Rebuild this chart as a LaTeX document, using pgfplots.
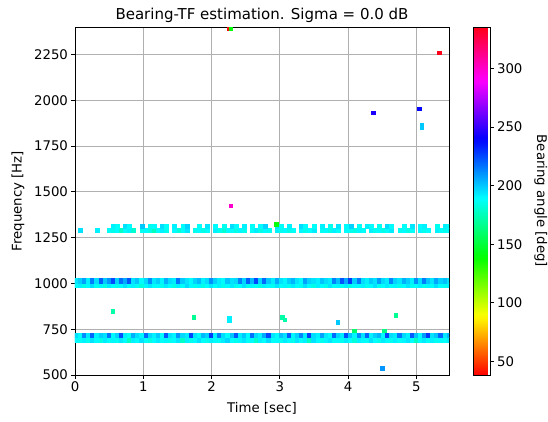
\documentclass[border=0pt]{standalone}
\usepackage{fontspec}
\setmainfont{DejaVu Sans}
\usepackage{pgfplots}
\pgfplotsset{compat=1.18}
\usepackage{pgfplotstable}
\pgfplotsset{
  /pgf/number format/assume math mode=true,
  /pgf/number format/1000 sep={},
  every tick label/.append style={font=\fontsize{13.3}{15}\selectfont},
  colormap={mplhsv}{rgb(0pt)=(1,0,0) rgb(159pt)=(1,0.9375,0) rgb(175pt)=(0.96875,1,0) rgb(333pt)=(0.03125,1,0) rgb(349pt)=(0,1,0.0625) rgb(508pt)=(0,1,1) rgb(667pt)=(0,0.0625,1) rgb(683pt)=(0.03125,0,1) rgb(841pt)=(0.96875,0,1) rgb(857pt)=(1,0,0.9375) rgb(1000pt)=(1,0,0.09375)},
}
% bands: x, y/c of two rows for the 700, 1000 and 1300 Hz bands
\pgfplotstableread{
x ya1 ca1 ya2 ca2 yb1 cb1 yb2 cb2 yc1 cc1 yc2 cc2
0.02 693 190 717 196 991 188 1014 194 nan 0 nan 0
0.08 693 188 717 190 991 192 1014 199 1293 195 nan 0
0.14 693 192 717 212 991 185 1014 208 nan 0 nan 0
0.20 693 186 717 194 991 190 1014 192 nan 0 nan 0
0.26 693 195 717 220 991 196 1014 215 nan 0 nan 0
0.32 693 190 717 192 991 187 1014 196 1293 192 nan 0
0.38 693 185 717 199 991 191 1014 221 nan 0 nan 0
0.44 693 193 717 195 991 184 1014 200 nan 0 nan 0
0.50 693 188 717 216 991 193 1014 210 1293 188 nan 0
0.56 693 191 717 190 991 189 1014 225 1293 185 1311 192
0.62 693 187 717 198 991 186 1014 198 1293 190 1311 188
0.68 693 194 717 224 991 190 1014 218 1293 178 nan 0
0.74 693 190 717 193 991 195 1014 206 1293 188 1311 195
0.80 693 178 717 188 991 188 1014 223 1293 192 1311 190
0.86 693 192 717 205 991 192 1014 195 1293 180 nan 0
0.92 693 189 717 196 991 187 1014 201 nan 0 nan 0
0.98 693 195 717 191 991 183 1014 190 1293 186 1311 200
1.04 693 188 717 219 991 191 1014 197 1293 190 nan 0
1.10 693 184 717 197 991 194 1014 212 1293 184 1311 186
1.16 693 190 717 192 991 188 1014 194 1293 176 1311 190
1.22 693 193 717 200 991 190 1014 199 1293 188 nan 0
1.28 693 188 717 189 991 186 1014 191 1293 192 1311 196
1.34 693 191 717 222 991 193 1014 205 1293 186 1311 188
1.40 693 186 717 195 991 189 1014 196 nan 0 nan 0
1.46 693 190 717 191 991 185 1014 193 1293 190 1311 192
1.52 693 194 717 210 991 192 1014 217 1293 182 nan 0
1.58 693 178 717 197 991 188 1014 200 1293 188 1311 190
1.64 693 192 717 193 991 196 1014 194 1293 194 1311 198
1.70 693 187 717 226 991 190 1014 190 nan 0 nan 0
1.76 693 190 717 195 991 187 1014 198 1293 186 nan 0
1.82 693 195 717 190 991 191 1014 203 1293 190 1311 188
1.88 693 189 717 203 991 185 1014 192 1293 184 nan 0
1.94 693 186 717 198 991 189 1014 196 1293 188 1311 194
2.00 693 192 717 228 991 194 1014 211 nan 0 nan 0
2.06 693 190 717 192 991 188 1014 199 1293 192 1311 190
2.12 693 188 717 214 991 192 1014 193 1293 186 nan 0
2.18 693 193 717 196 991 186 1014 190 1293 180 1311 186
2.24 693 197 717 189 991 190 1014 201 1293 190 nan 0
2.30 693 189 717 201 991 193 1014 195 1293 188 1311 196
2.36 693 186 717 222 991 187 1014 197 1293 184 1311 190
2.42 693 191 717 193 991 189 1014 214 1293 191 nan 0
2.48 693 194 717 200 991 195 1014 198 1293 186 1311 192
2.54 693 188 717 190 991 186 1014 221 nan 0 nan 0
2.60 693 190 717 218 991 191 1014 203 1293 188 1311 188
2.66 693 180 717 197 991 188 1014 226 1293 193 nan 0
2.72 693 192 717 192 991 184 1014 197 1293 185 1311 190
2.78 693 189 717 206 991 192 1014 219 1293 190 1311 198
2.84 693 196 717 225 991 190 1014 200 1293 187 nan 0
2.90 693 188 717 194 991 187 1014 193 nan 0 nan 0
2.96 693 190 717 190 991 194 1014 206 1293 192 1311 194
3.02 693 187 717 202 991 188 1014 195 1293 186 1311 188
3.08 693 193 717 195 991 191 1014 191 1293 190 nan 0
3.14 693 190 717 221 991 186 1014 199 1293 184 1311 192
3.20 693 186 717 191 991 193 1014 204 1293 188 nan 0
3.26 693 194 717 198 991 189 1014 194 nan 0 nan 0
3.32 693 189 717 213 991 187 1014 190 1293 191 1311 196
3.38 693 192 717 193 991 195 1014 208 1293 186 1311 190
3.44 693 178 717 227 991 190 1014 198 1293 189 nan 0
3.50 693 195 717 196 991 185 1014 195 1293 193 1311 188
3.56 693 190 717 192 991 192 1014 192 nan 0 nan 0
3.62 693 186 717 208 991 189 1014 201 1293 187 1311 192
3.68 693 191 717 194 991 186 1014 196 1293 190 nan 0
3.74 693 194 717 190 991 194 1014 193 1293 185 1311 186
3.80 693 188 717 219 991 188 1014 214 1293 192 nan 0
3.86 693 190 717 198 991 191 1014 202 1293 188 1311 194
3.92 693 187 717 193 991 187 1014 223 nan 0 nan 0
3.98 693 193 717 224 991 193 1014 207 1293 190 1311 190
4.04 693 189 717 201 991 185 1014 228 1293 186 1311 198
4.10 693 182 717 191 991 190 1014 199 1293 184 nan 0
4.16 693 192 717 212 991 188 1014 216 1293 191 1311 188
4.22 693 190 717 195 991 192 1014 196 1293 188 nan 0
4.28 693 188 717 220 991 187 1014 192 nan 0 1311 192
4.34 693 195 717 192 991 190 1014 200 1293 192 1311 190
4.40 693 189 717 199 991 195 1014 195 1293 186 nan 0
4.46 693 186 717 204 991 186 1014 209 1293 190 1311 186
4.52 693 193 717 190 991 189 1014 197 1293 185 nan 0
4.58 693 190 717 226 991 193 1014 193 1293 188 1311 196
4.64 693 187 717 196 991 188 1014 213 1293 193 1311 190
4.70 693 192 717 193 991 191 1014 198 nan 0 nan 0
4.76 693 188 717 216 991 186 1014 194 1293 187 nan 0
4.82 693 191 717 197 991 190 1014 205 1293 190 1311 188
4.88 693 194 717 192 991 194 1014 199 1293 184 nan 0
4.94 693 189 717 222 991 187 1014 192 1293 188 1311 194
5.00 693 178 717 202 991 189 1014 211 nan 0 nan 0
5.06 693 190 717 190 991 192 1014 196 1293 191 1311 190
5.12 693 193 717 209 991 186 1014 215 1293 186 1311 192
5.18 693 188 717 228 991 191 1014 201 1293 189 nan 0
5.24 693 192 717 195 991 188 1014 194 nan 0 nan 0
5.30 693 187 717 201 991 195 1014 207 1293 192 1311 186
5.36 693 190 717 219 991 189 1014 198 1293 188 nan 0
5.42 693 189 717 194 991 187 1014 202 1293 186 1311 192
5.48 693 193 717 203 991 191 1014 195 1293 190 1311 188
}\bands
\pgfplotstableread{
x y c
0.55 848 172
1.74 816 168
2.26 800 192
2.26 812 192
3.04 815 172
3.07 802 172
3.85 788 200
4.09 741 160
4.53 741 165
4.70 827 168
4.50 538 210
2.95 1322 140
2.28 1425 300
4.37 1932 245
5.04 1954 240
5.08 1852 200
5.08 1866 200
5.34 2259 335
2.25 2393 40
2.28 2393 140
}\outliers
\begin{document}
\begin{tikzpicture}
\path[use as bounding box] (-75pt,-46pt) rectangle (473pt,375pt);
\begin{axis}[
  at={(0pt,0pt)}, anchor=south west,
  scale only axis, width=374pt, height=348pt,
  xmin=0, xmax=5.48, ymin=500, ymax=2400,
  xtick={0,1,2,3,4,5}, ytick={500,750,1000,1250,1500,1750,2000,2250},
  grid=major, grid style={color=black!31, line width=0.8pt},
  axis line style={line width=0.8pt},
  tick align=outside, tick pos=left, major tick length=3.5pt,
  every tick/.style={black, line width=0.8pt},
  xlabel={Time [sec]}, ylabel={Frequency [Hz]},
  every axis x label/.style={at={(axis description cs:0.5,0)}, yshift=-37pt, anchor=base, font=\fontsize{13.3}{15}\selectfont},
  every axis y label/.style={at={(axis description cs:0,0.5)}, xshift=-57pt, rotate=90, anchor=center, font=\fontsize{13.3}{15}\selectfont},
  title={Bearing-TF estimation. Sigma = 0.0 dB},
  every axis title/.style={at={(axis description cs:0.5,1)}, yshift=8pt, anchor=base, font=\fontsize{15}{17}\selectfont},
  colormap name=mplhsv, point meta min=38.4, point meta max=335.5,
  scatter/use mapped color={draw=mapped color, fill=mapped color},
  clip marker paths=true,
  colorbar,
  colorbar style={
    at={(parent axis.north east)}, anchor=north west, xshift=15.5pt,
    scale only axis, width=17pt, height=348pt,
    grid=none, xtick=\empty,
    ytick={50,100,150,200,250,300},
    ytick pos=right, yticklabel pos=right,
    tick align=outside, major tick length=3.5pt,
    every tick/.style={black, line width=0.8pt},
    axis line style={line width=0.8pt},
    ylabel={Bearing angle [deg]},
    every axis y label/.style={at={(axis description cs:1,0.5)}, xshift=44pt, rotate=-90, anchor=south, inner sep=0pt, font=\fontsize{13.3}{15}\selectfont},
  },
]
\addplot[scatter, only marks, mark=square*, mark size=2.2pt, point meta=explicit] table[x=x, y=ya1, meta=ca1] {\bands};
\addplot[scatter, only marks, mark=square*, mark size=2.2pt, point meta=explicit] table[x=x, y=ya2, meta=ca2] {\bands};
\addplot[scatter, only marks, mark=square*, mark size=2.2pt, point meta=explicit] table[x=x, y=yb1, meta=cb1] {\bands};
\addplot[scatter, only marks, mark=square*, mark size=2.2pt, point meta=explicit] table[x=x, y=yb2, meta=cb2] {\bands};
\addplot[scatter, only marks, mark=square*, mark size=2pt, point meta=explicit] table[x=x, y=yc1, meta=cc1] {\bands};
\addplot[scatter, only marks, mark=square*, mark size=2pt, point meta=explicit] table[x=x, y=yc2, meta=cc2] {\bands};
\addplot[scatter, only marks, mark=square*, mark size=1.8pt, point meta=explicit] table[x=x, y=y, meta=c] {\outliers};
\end{axis}
\end{tikzpicture}
\end{document}
